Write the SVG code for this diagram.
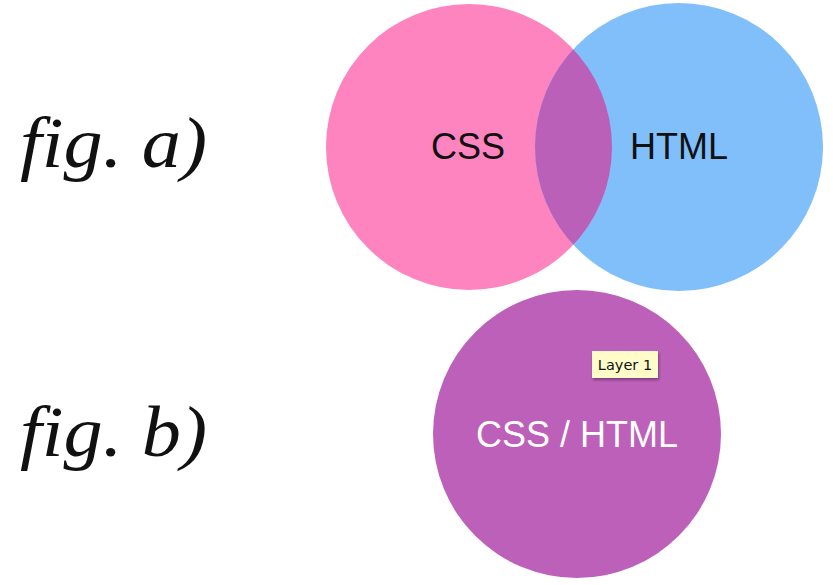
<svg xmlns="http://www.w3.org/2000/svg" width="833" height="585" viewBox="0 0 833 585">
<style>
.fig{font-family:"Liberation Serif","DejaVu Serif",serif;font-style:italic;font-size:71px;fill:#111}
.lbl{font-family:"Liberation Sans",Arial,sans-serif;font-size:36px;text-anchor:middle;dominant-baseline:central}
</style>
<defs>
<clipPath id="clipCss"><circle cx="469" cy="147" r="143"/></clipPath>
<filter id="sh" x="-20%" y="-20%" width="150%" height="160%"><feDropShadow dx="1" dy="2" stdDeviation="1.5" flood-color="#000" flood-opacity="0.35"/></filter>
</defs>
<rect width="833" height="585" fill="#fff"/>
<text class="fig" x="20" y="167" textLength="187" lengthAdjust="spacingAndGlyphs">fig. a)</text>
<text class="fig" x="20" y="456" textLength="187" lengthAdjust="spacingAndGlyphs">fig. b)</text>
<g id="css">
<circle cx="469" cy="147" r="143" fill="#FD84BE"/>
</g>
<g id="html">
<circle cx="679" cy="147" r="144" fill="#80BFFA"/>
<circle cx="679" cy="147" r="144" fill="#BA60B8" clip-path="url(#clipCss)"/>
</g>
<text class="lbl" x="468" y="146" fill="#111">CSS</text>
<text class="lbl" x="679" y="146" fill="#111">HTML</text>
<g id="csshtml">
<circle cx="577" cy="434" r="144" fill="#BD60BA"/>
<text class="lbl" x="577" y="434" fill="#fff">CSS / HTML</text>
</g>
<g id="tooltip">
<rect x="592" y="351" width="66" height="27" fill="#FFFCC9" filter="url(#sh)"/>
<text x="625" y="365" font-family="'DejaVu Sans',sans-serif" font-size="14.5" text-anchor="middle" dominant-baseline="central" fill="#111">Layer 1</text>
</g>
</svg>
